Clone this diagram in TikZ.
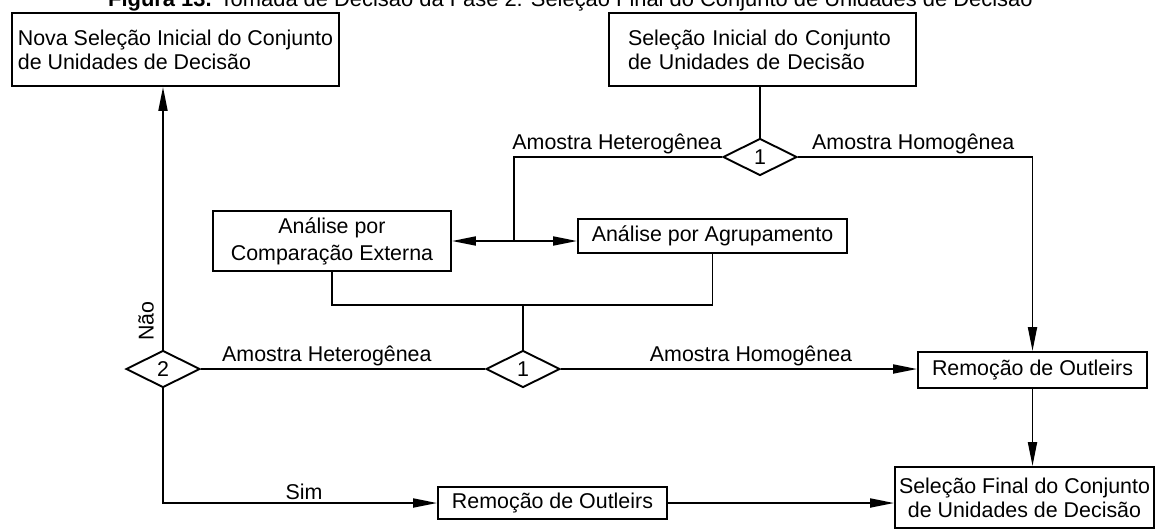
\documentclass[tikz,border=0pt]{standalone}
\usepackage{fontspec}
\setmainfont{Liberation Sans}
\usetikzlibrary{shapes.geometric,arrows.meta}
\begin{document}
\begin{tikzpicture}[x=1pt,y=-1pt,
  every node/.style={font=\fontsize{21.4}{24}\selectfont},
  box/.style={draw, line width=1.9pt, rectangle, inner sep=0pt, align=center},
  dec/.style={draw, line width=1.9pt, diamond, minimum width=74pt, minimum height=37pt, inner sep=0pt, aspect=2},
  lbl/.style={inner sep=0pt},
  conn/.style={line width=1.9pt},
  arr/.style={conn, -{Triangle[length=24pt,width=9pt]}},
]
\useasboundingbox (0,0) rectangle (1159,531);
\begin{scope}
\clip (0,0) rectangle (1159,531);
\node[lbl, anchor=base west, font=\fontsize{21.9}{24}\selectfont] (cap) at (108,6) {\textbf{Figura 13.} Tomada de Decisão da Fase 2: Seleção Final do Conjunto de Unidades de Decisão};
\end{scope}

\node[box, minimum width=327pt, minimum height=73pt, align=left] (A) at (175.5,49.5) {Nova Seleção Inicial do Conjunto\\de Unidades de Decisão};
\node[box, minimum width=307pt, minimum height=73pt, align=left, text width=269pt] (B) at (762.5,49.5) {Seleção Inicial do Conjunto\\de Unidades de Decisão};
\node[box, minimum width=238pt, minimum height=60pt, font=\fontsize{21.4}{27}\selectfont] (C) at (332,241) {Análise por\\Comparação Externa};
\node[box, minimum width=269pt, minimum height=34pt] (D) at (712.5,236) {Análise por Agrupamento};
\node[box, minimum width=229pt, minimum height=36pt] (R1) at (1032.5,370) {Remoção de Outleirs};
\node[box, minimum width=229pt, minimum height=32pt] (R2) at (552.5,503) {Remoção de Outleirs};
\node[box, minimum width=259pt, minimum height=61pt] (F) at (1024.5,497.5) {Seleção Final do Conjunto\\de Unidades de Decisão};

\node[dec] (Q1) at (760,157) {1};
\node[dec] (Q2) at (523,369) {1};
\node[dec] (Q3) at (163,369) {2};

\coordinate (hl) at (514,157);
\coordinate (hb) at (514,241);
\coordinate (m) at (523,305);

\draw[conn] (Q1.north) -- (Q1.north |- B.south);
\draw[conn] (Q1.west) -- (hl) -- (hb);
\draw[arr] (hb) -- (C.east |- hb);
\draw[arr] (hb) -- (D.west |- hb);
\draw[arr] (Q1.east) -| (R1.north);
\draw[conn] (C.south) |- (m) -| (D.south);
\draw[conn] (m) -- (Q2.north);
\draw[arr] (Q2.east) -- (R1.west |- Q2.east);
\draw[conn] (Q2.west) -- (Q3.east);
\draw[arr] (R1.south) -- (F.north -| R1.south);
\draw[arr] (Q3.north) -- (A.south -| Q3.north);
\draw[arr] (Q3.south) |- (R2.west);
\draw[arr] (R2.east) -- (F.west |- R2.east);

\node[lbl, anchor=base east] (l1) at (722,149) {Amostra Heterogênea};
\node[lbl, anchor=base west] (l2) at (812,149) {Amostra Homogênea};
\node[lbl, anchor=base west] (l3) at (222,361) {Amostra Heterogênea};
\node[lbl, anchor=base] (l4) at (751,361) {Amostra Homogênea};
\node[lbl, anchor=base] (l5) at (304,499) {Sim};
\node[lbl, rotate=90] (l6) at (146,321) {Não};
\end{tikzpicture}
\end{document}
